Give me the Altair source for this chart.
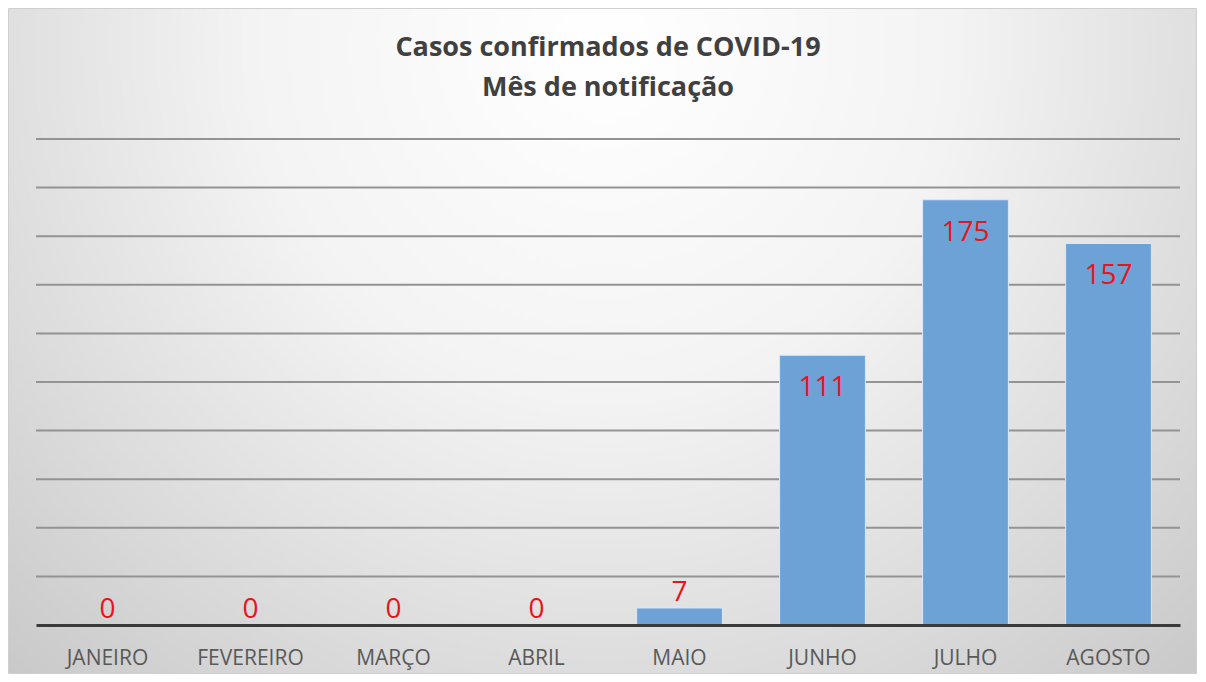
import altair as alt
import pandas as pd

months = ["JANEIRO", "FEVEREIRO", "MARÇO", "ABRIL", "MAIO", "JUNHO", "JULHO", "AGOSTO"]
cases = [0, 0, 0, 0, 7, 111, 175, 157]
grid_values = [20, 40, 60, 80, 100, 120, 140, 160, 180, 200]
title_lines = ["Casos confirmados de COVID-19", "Mês de notificação"]

df = pd.DataFrame({"mes": months, "casos": cases})
grid_df = pd.DataFrame({"v": grid_values})

W, H = 1144, 486
PAD = {"left": 28, "top": 131, "right": 18, "bottom": 49}

x_enc = alt.X("mes:N", sort=months, title=None,
              scale=alt.Scale(paddingInner=0.4, paddingOuter=0.2),
              axis=alt.Axis(labelAngle=0, labelFont="Open Sans", labelFontSize=21,
                            labelColor="#595959", ticks=False, domainColor="#3a3a3a",
                            domainWidth=3, labelPadding=22, zindex=1))
y_scale = alt.Scale(domain=[0, 200], nice=False)

gradient = {
    "gradient": "radial",
    "x1": 0.5, "y1": 0.25, "r1": 0.0,
    "x2": 0.5, "y2": 0.25, "r2": 0.85,
    "stops": [
        {"offset": 0.0, "color": "#ffffff"},
        {"offset": 0.35, "color": "#f3f3f3"},
        {"offset": 1.0, "color": "#bdbdbd"},
    ],
}

bg = alt.Chart(pd.DataFrame({"a": [0]})).mark_rect(
    fill=gradient, stroke="#cfcfcf", strokeWidth=1
).encode(
    x=alt.value(-27.5), x2=alt.value(W + 16.5),
    y=alt.value(-130.5), y2=alt.value(H + 48.5)
)

grid = alt.Chart(grid_df).mark_rule(color="#939393", strokeWidth=2).encode(
    y=alt.Y("v:Q", scale=y_scale, axis=None)
)

base = alt.Chart(df)

bars = base.mark_bar(color="#6ca2d6", stroke="#dbe9f7", strokeWidth=1).encode(
    x=x_enc,
    y=alt.Y("casos:Q", scale=y_scale,
            axis=alt.Axis(labels=False, ticks=False, domain=False, grid=False, title=None)),
)

labels_in = base.transform_filter("datum.casos >= 20").mark_text(
    font="Open Sans", fontSize=28, color="#e8141c", baseline="top", dy=19
).encode(x=alt.X("mes:N", sort=months), y=alt.Y("casos:Q", scale=y_scale), text="casos:Q")

labels_out = base.transform_filter("datum.casos < 20").mark_text(
    font="Open Sans", fontSize=28, color="#e8141c", baseline="bottom", dy=-1
).encode(x=alt.X("mes:N", sort=months), y=alt.Y("casos:Q", scale=y_scale), text="casos:Q")

chart = alt.layer(bg, grid, bars, labels_in, labels_out).properties(
    width=W, height=H,
    autosize=alt.AutoSizeParams(type="none"),
    padding=PAD,
    title=alt.TitleParams(title_lines, font="Open Sans", fontSize=27, fontWeight="bold",
                          color="#404040", anchor="middle", offset=-94, lineHeight=40),
).configure_view(stroke=None).configure(background="white")

chart.save("out.html", embed_options={"renderer": "svg", "actions": False})
